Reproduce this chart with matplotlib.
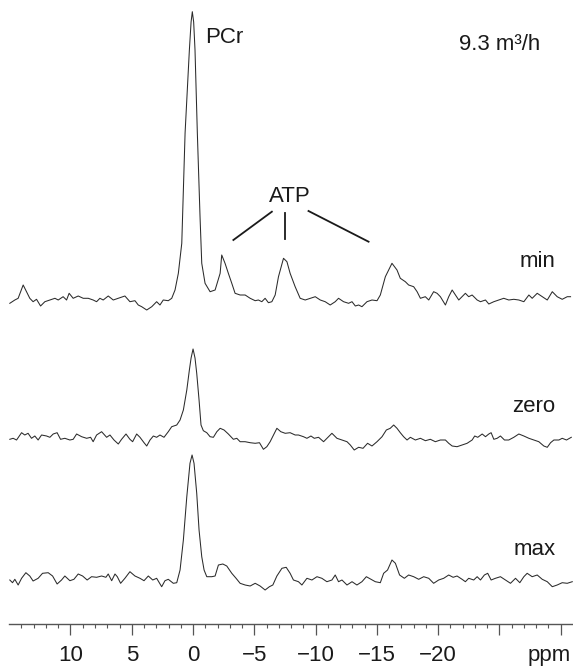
import matplotlib
matplotlib.use("Agg")
import matplotlib.pyplot as plt
import numpy as np

plt.rcParams['font.family'] = ['Liberation Sans', 'DejaVu Sans']

# ---- data: chemical shift (ppm) and intensity (arb. units, relative to each trace baseline)
min_ppm = [14.95, 14.54, 14.27, 13.86, 13.59, 13.32, 13.05, 12.77, 12.44, 12.09, 11.68, 11.27, 11.00,
           10.60, 10.32, 10.11, 9.78, 9.37, 8.96, 8.55, 8.15, 7.87, 7.60, 7.33, 6.92, 6.51, 6.10, 5.56,
           5.15, 4.74, 4.47, 4.19, 3.78, 3.37, 2.97, 2.70, 2.43, 2.02, 1.74, 1.47, 1.20, 0.92, 0.65,
           0.30, 0.16, 0.06, -0.05, -0.16, -0.35, -0.57, -0.71, -0.98, -1.39, -1.80, -2.21, -2.34,
           -2.61, -2.88, -3.16, -3.43, -3.84, -4.25, -4.66, -5.07, -5.33, -5.61, -5.88, -6.15, -6.43,
           -6.70, -6.97, -7.38, -7.66, -7.92, -8.33, -8.74, -9.15, -9.56, -9.97, -10.38, -10.78,
           -11.19, -11.60, -11.87, -12.28, -12.69, -12.97, -13.24, -13.51, -13.78, -14.19, -14.60,
           -15.01, -15.28, -15.69, -16.23, -16.64, -16.91, -17.32, -17.59, -18.00, -18.28, -18.55,
           -18.95, -19.23, -19.63, -19.91, -20.18, -20.59, -20.86, -21.14, -21.41, -21.68, -21.95,
           -22.22, -22.49, -22.77, -23.18, -23.45, -23.86, -24.13, -24.54, -24.94, -25.35, -25.76,
           -26.17, -26.58, -26.99, -27.40, -27.67, -28.08, -28.49, -28.90, -29.31, -29.71, -30.12,
           -30.53, -30.80]
min_int = [-5.3, -2, -0.3, 13, 6.3, -0.3, -3.7, -1.3, -8, -3.7, -2, -0.3, -2,
           1.3, -2, 4.7, -0.3, 2, -0.3, -0.3, -2, -3.7, -0.3, -2, 2, -2, -0.3, 2,
           -3.7, -2.7, -7, -8.7, -12, -8.7, -3.7, -7, -2, -2.7, -0.3, 8, 24.7, 54.7, 165,
           248, 276, 286.3, 276, 248, 165, 81.3, 34.7, 14.7, 6.3, 8, 24.7, 43,
           34.7, 24.7, 14.7, 4.7, 3, 3, -0.3, -2.7, -2, -3.7, -0.3, -4.7, -3.7,
           3, 21.3, 39.7, 36.3, 24.7, 11.3, -0.3, -2, -0.3, 1.3, -2, -3.7,
           -7, -3.7, -0.3, -3.7, -5.3, -3.7, -8, -7, -8.7, -3.7, -2,
           -2.7, 3, 21.3, 34.7, 28, 19.7, 16.3, 13, 11.3, 6.3, -0.3,
           1.3, -2, 6.3, 4.7, 1.3, -7, 1.3, 8, 3, -2, 1.3,
           4.7, 1.3, 3, -2, -3.7, -2, -6, -3.7, -2, -0.3, -2,
           -1.3, -2, -3.7, 3, -0.3, 4.7, 1.3, -2, 6.3, 1.3, -1.3,
           1.3, 1.3]

zero_ppm = [14.95, 14.68, 14.40, 13.99, 13.73, 13.46, 13.18, 12.91, 12.64, 12.36, 11.95, 11.68, 11.41,
            11.09, 10.81, 10.46, 10.05, 9.78, 9.50, 9.09, 8.68, 8.36, 8.15, 7.87, 7.46, 7.05, 6.78,
            6.45, 6.10, 5.83, 5.47, 5.15, 4.93, 4.60, 4.33, 4.00, 3.78, 3.51, 3.24, 2.97, 2.70, 2.37,
            2.02, 1.74, 1.33, 1.06, 0.79, 0.51, 0.30, 0.16, 0.00, -0.16, -0.30, -0.49, -0.65, -0.84,
            -1.12, -1.39, -1.66, -1.94, -2.21, -2.53, -2.88, -3.29, -3.57, -3.84, -4.25, -4.66, -5.07,
            -5.42, -5.74, -6.02, -6.29, -6.56, -6.84, -7.16, -7.52, -7.92, -8.33, -8.60, -9.01, -9.29,
            -9.62, -9.89, -10.24, -10.65, -11.06, -11.33, -11.74, -12.15, -12.56, -12.83, -13.15,
            -13.51, -13.87, -14.24, -14.60, -15.01, -15.42, -15.77, -16.09, -16.37, -16.64, -16.91,
            -17.18, -17.46, -17.73, -18.14, -18.55, -18.96, -19.36, -19.77, -20.18, -20.59, -20.86,
            -21.14, -21.54, -21.95, -22.36, -22.77, -22.98, -23.23, -23.59, -23.86, -24.13, -24.32,
            -24.54, -24.81, -25.08, -25.41, -25.76, -26.17, -26.58, -26.99, -27.40, -27.80, -28.21,
            -28.62, -28.90, -29.17, -29.44, -29.85, -30.12, -30.47, -30.86]
zero_int = [-2.3, -1.3, -3, 4.3, 2, 3.7, -1.3, 1, -3, 2, 1, -0.3, 3,
            4.3, -2.3, -1.3, -3, -2.3, 3, 0.3, -1.3, -0.3, -4.7, 2, 5.3, -0.3, 2,
            -3, -7, -2.3, 3, -2.3, -4.7, 3, -0.3, -5.7, -9, -3, 1, -0.3, 2, -0.3,
            5.3, 10.3, 12, 17, 27, 47, 67, 79, 88, 79, 63.7, 37, 12, 6.3,
            4.3, 0.3, -0.3, 5.3, 8.7, 7, 3, -2.3, -1.3, -4.7, -4.7, -5.7, -6.3,
            -5.7, -12.3, -9.7, -4.7, 2, 8.7, 5.3, 3.7, 4.3, 2, 2, 0.3, -1.3,
            1, -1.3, -0.3, -4.7, 0.3, 3.7, -1.3, -3, -4.7, -8, -13,
            -10.3, -11.3, -6.3, -9, -4.7, 0.3, 7, 8.7, 12, 8.7, 4.3,
            0.3, -3, -0.3, -3, -1.3, -3.7, -2.3, -4.7, -3, -3, -6.3,
            -9, -9.7, -8, -6.3, -3, 1, -0.3, 3, 0.3, 3, 4.3,
            -2.3, -1.3, 1, -3, -3, -0.3, 3, 1, -1.3, -3, -4.7,
            -9, -10.3, -5.7, -3, -3, -1.3, -3, -0.3]

max_ppm = [14.95, 14.73, 14.54, 14.27, 13.99, 13.64, 13.32, 13.05, 12.64, 12.28, 11.82, 11.46, 11.09,
           10.73, 10.46, 10.05, 9.72, 9.37, 9.01, 8.64, 8.28, 7.87, 7.46, 7.11, 6.92, 6.64, 6.37,
           6.18, 5.91, 5.56, 5.15, 4.74, 4.33, 4.00, 3.65, 3.29, 2.97, 2.56, 2.29, 2.02, 1.61, 1.33,
           1.06, 0.79, 0.51, 0.25, 0.08, -0.08, -0.30, -0.49, -0.71, -0.90, -1.12, -1.53, -1.80,
           -2.07, -2.43, -2.75, -3.16, -3.51, -3.84, -4.25, -4.66, -5.07, -5.47, -5.88, -6.23, -6.51,
           -6.84, -7.25, -7.60, -7.92, -8.19, -8.60, -8.88, -9.29, -9.70, -10.11, -10.51, -10.92,
           -11.33, -11.60, -11.87, -12.15, -12.56, -12.97, -13.37, -13.78, -14.14, -14.52, -14.87,
           -15.28, -15.55, -15.87, -16.23, -16.51, -16.85, -17.24, -17.59, -18.00, -18.41, -18.82,
           -19.23, -19.63, -20.04, -20.45, -20.86, -21.22, -21.54, -21.95, -22.22, -22.49, -22.90,
           -23.18, -23.45, -23.77, -24.04, -24.32, -24.67, -25.08, -25.49, -25.90, -26.31, -26.66,
           -26.99, -27.26, -27.67, -28.08, -28.49, -28.90, -29.31, -29.71, -30.12, -30.53, -30.94]
max_int = [-2, -4.7, -1.3, -7, -0.3, 5.3, 2, -3, -0.3, 4.7, 5.3, 2, -6,
           -2, 2, -2.7, -1.3, 4, 2, -2, 1.3, 0.7, 2, 0.7, 4, -2.7, 4,
           1.3, -5.3, -0.3, 6.3, 2, -0.3, -2.7, 2, -2, -0.3, -8.7, -2.7, -1.3, -5.3, -4.7,
           8, 38, 81.3, 114.7, 123, 114.7, 84.7, 48, 21.3, 8, 1.3, 1.3, 2,
           13, 14, 12, 4.7, -0.3, -5.3, -7, -8, -5.3, -8, -12, -8.7, -7,
           2, 9.7, 10.7, 4.7, -2, -3.7, -7, -0.3, -2, 1.3, -0.3, -3.7,
           -2, 3, -3.7, -2, -7, -3.7, -7, -3.7, 1.3, -1.3, -3.7,
           -4.7, 4.7, 8, 18, 14.7, 3, -0.3, 3, 1.3, -1.3, 1.3,
           -0.3, -5.3, -2, -0.3, 3, 0.7, 2, -1.3, -3.7, -0.3, -2,
           1.3, -2, 3, 4.7, -2, -0.3, 1.3, -2, -5.3, -0.3, -4.7,
           1.3, 4.7, 1.3, 3, -1.3, -3.7, -8.7, -7, -4.7, -5.3, -3.7]

trace_labels = ["min", "zero", "max"]
major_ticks = [10, 5, 0, -5, -10, -15, -20, -25, -30]
major_labels = ["10", "5", "0", "\u22125", "\u221210", "\u221215", "\u221220", "", ""]

# ---- layout
W, H = 573, 668
fig = plt.figure(figsize=(W / 100, H / 100), dpi=100)
ax_left, ax_bottom_px = 9.2, 624
ax = fig.add_axes([ax_left / W, (H - ax_bottom_px) / H, (W - ax_left) / W, ax_bottom_px / H])
ax.set_xlim(15.0, -31.0)
ax.set_ylim(0, 624)

offsets = [326, 187, 46]
label_y = [357.3, 212.3, 69]
line_color = '#2b2b2b'
for ppm, inten, off, lab, ly in zip([min_ppm, zero_ppm, max_ppm],
                                     [min_int, zero_int, max_int],
                                     offsets, trace_labels, label_y):
    ax.plot(ppm, np.asarray(inten) + off, color=line_color, lw=0.75)
    ax.text(-29.58, ly, lab, ha='right', va='baseline', fontsize=16, color='#1a1a1a')

ax.text(-0.98, 580.7, "PCr", ha='left', va='baseline', fontsize=16, color='#1a1a1a')
ax.text(-21.7, 574, "9.3 m\u00b3/h", ha='left', va='baseline', fontsize=16, color='#1a1a1a')
ax.text(-7.92, 422.3, "ATP", ha='center', va='baseline', fontsize=16, color='#1a1a1a')
ax.plot([-6.43, -3.29], [412.3, 384], color='#1a1a1a', lw=1.3)
ax.plot([-7.52, -7.52], [411, 385], color='#1a1a1a', lw=1.3)
ax.plot([-9.42, -14.32], [413, 382.3], color='#1a1a1a', lw=1.3)

for s in ['top', 'left', 'right']:
    ax.spines[s].set_visible(False)
ax.spines['bottom'].set_color('#555555')
ax.spines['bottom'].set_linewidth(1.0)
ax.set_yticks([])
ax.set_xticks(major_ticks)
ax.set_xticklabels(major_labels)
ax.set_xticks(np.arange(14, -31, -1), minor=True)
ax.tick_params(axis='x', which='major', length=8, width=0.9, color='#555555',
               direction='out', pad=7, labelsize=16, labelcolor='#1a1a1a')
ax.tick_params(axis='x', which='minor', length=3.2, width=0.8, color='#555555', direction='out')
fig.text(570.5 / W, (H - 661) / H, "ppm", ha='right', va='baseline', fontsize=16,
         color='#1a1a1a')

fig.savefig("out.png", dpi=100)
